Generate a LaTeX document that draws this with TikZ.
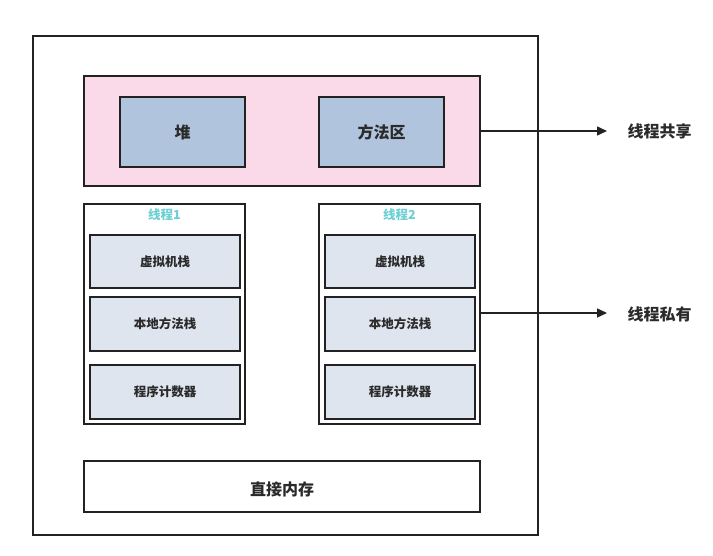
\documentclass[tikz,border=0pt]{standalone}
\usepackage{fontspec}
\setmainfont{Liberation Sans}
\newfontfamily\cjk{Noto Sans CJK SC}
\usetikzlibrary{arrows.meta}
\definecolor{linec}{HTML}{222222}
\definecolor{pinkf}{HTML}{FADAE9}
\definecolor{bluef}{HTML}{B0C4DE}
\definecolor{lightf}{HTML}{DFE5EF}
\definecolor{tealt}{HTML}{6CCFD3}
\definecolor{textc}{HTML}{2A2A2A}
\tikzset{
  box/.style={draw=linec, line width=1.5pt, inner sep=0pt},
  lbl/.style={font=\cjk\bfseries\fontsize{12.5}{14}\selectfont, text=textc},
  bigl/.style={font=\cjk\bfseries\fontsize{16}{18}\selectfont, text=textc},
  conn/.style={draw=linec, line width=1.5pt, -{Triangle[length=10pt,width=9pt]}}
}
\begin{document}
\begin{tikzpicture}[x=1pt,y=-1pt]
\useasboundingbox (0,0) rectangle (713,556);
% outer
\draw[box] (33,36) rectangle (538,535);
% shared area
\draw[box, fill=pinkf] (84,76) rectangle (480,186);
\coordinate (pinkE) at (480,131);
\draw[box, fill=bluef] (120,97) rectangle (245,167);
\node[bigl] (heap) at (182.5,132) {堆};
\draw[box, fill=bluef] (319,97) rectangle (444,167);
\node[bigl] (meth) at (381.5,132) {方法区};
% threads
\foreach \x/\n in {84/1,319/2}{
  \draw[box] (\x,204) rectangle (\x+161,424);
  \node[font=\cjk\bfseries\fontsize{12.5}{14}\selectfont, text=tealt] (t\n) at (\x+80.5,215) {线程\n};
  \draw[box, fill=lightf] (\x+6,235) rectangle (\x+156,288);
  \node[lbl] (vm\n) at (\x+81,262) {虚拟机栈};
  \draw[box, fill=lightf] (\x+6,297) rectangle (\x+156,351);
  \node[lbl] (nm\n) at (\x+81,324) {本地方法栈};
  \draw[box, fill=lightf] (\x+6,365) rectangle (\x+156,419);
  \node[lbl] (pc\n) at (\x+81,392) {程序计数器};
}
\coordinate (thrE) at (480,313);
% direct memory
\draw[box] (84,461) rectangle (480,512);
\node[bigl] (dm) at (282,489) {直接内存};
% labels
\node[bigl, anchor=west] (share) at (624,131) {线程共享};
\node[bigl, anchor=west] (priv) at (624,314) {线程私有};
\draw[conn] (pinkE) -- (607,131);
\draw[conn] (thrE) -- (607,313);
\end{tikzpicture}
\end{document}
